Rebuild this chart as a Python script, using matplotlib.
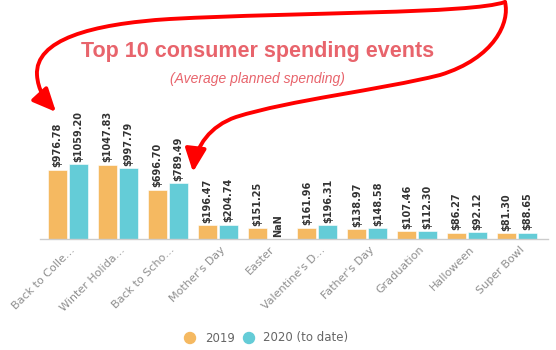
import matplotlib
matplotlib.use("Agg")
import matplotlib.pyplot as plt
import matplotlib.patches as patches
from matplotlib.path import Path
import numpy as np

# data
events = ["Back to Colle\u2026", "Winter Holida\u2026", "Back to Scho\u2026", "Mother's Day",
          "Easter", "Valentine's D\u2026", "Father's Day", "Graduation", "Halloween", "Super Bowl"]
spend_2019 = [976.78, 1047.83, 696.70, 196.47, 151.25, 161.96, 138.97, 107.46, 86.27, 81.30]
spend_2020 = [1059.20, 997.79, 789.49, 204.74, np.nan, 196.31, 148.58, 112.30, 92.12, 88.65]
series_names = ["2019", "2020 (to date)"]

ORANGE = "#F5B961"
CYAN = "#64CCD7"
TITLE_RED = "#E8646C"

W, H = 556, 350
fig = plt.figure(figsize=(W / 100, H / 100), dpi=100)

# main bar axes (pixel layout: left 40, right 548, baseline 239, top 100)
ax = fig.add_axes([40 / W, (H - 239) / H, 508 / W, 139 / H])
x = np.arange(len(events))
bw = 0.38
off = 0.21
ax.bar(x - off, spend_2019, bw, color=ORANGE, edgecolor="white", linewidth=0.4)
ax.bar(x + off, np.nan_to_num(spend_2020), bw, color=CYAN, edgecolor="white", linewidth=0.4)

lab_kw = dict(rotation=90, ha="center", va="bottom", fontsize=7, fontweight="bold",
              color="#333333", family="DejaVu Sans")
for i in range(len(events)):
    ax.text(x[i] - off, spend_2019[i] + 35, f"${spend_2019[i]:.2f}", **lab_kw)
    v = spend_2020[i]
    txt = "NaN" if np.isnan(v) else f"${v:.2f}"
    ax.text(x[i] + off, (0 if np.isnan(v) else v) + 35, txt, **lab_kw)

ax.set_xlim(-0.56, 9.62)
ax.set_ylim(0, 1963)
ax.set_yticks([])
ax.set_xticks(x + 0.04)
ax.set_xticklabels(events, rotation=45, ha="right", va="top", rotation_mode="anchor",
                   fontsize=8, color="#8f8f8f", family="DejaVu Sans")
ax.tick_params(axis="x", length=0, pad=4)
for s in ["top", "right", "left"]:
    ax.spines[s].set_visible(False)
ax.spines["bottom"].set_color("#cccccc")
ax.spines["bottom"].set_linewidth(1)
ax.patch.set_alpha(0)

# overlay in pixel coordinates for title, legend and hand-drawn arrows
ov = fig.add_axes([0, 0, 1, 1], zorder=5)
ov.set_xlim(0, W)
ov.set_ylim(H, 0)
ov.axis("off")
ov.patch.set_alpha(0)

ov.text(258, 52, "Top 10 consumer spending events", ha="center", va="center",
        fontsize=15.5, fontweight="bold", color=TITLE_RED, family="Liberation Sans")
ov.text(257, 79, "(Average planned spending)", ha="center", va="center",
        fontsize=10, style="italic", color=TITLE_RED, family="Liberation Sans")

# legend
ov.add_patch(patches.Circle((190, 338), 5.5, color=ORANGE))
ov.text(205, 338, series_names[0], ha="left", va="center", fontsize=8.5, color="#666666")
ov.add_patch(patches.Circle((249, 338), 5.5, color=CYAN))
ov.text(263, 338, series_names[1], ha="left", va="center", fontsize=8.5, color="#666666")

# hand-drawn red arrows
C = Path.CURVE4
left_path = Path(
    [(505, 2), (470, 14), (300, 12), (170, 19),
     (90, 24), (35, 40), (37, 75),
     (38, 90), (45, 100), (56, 112)],
    [Path.MOVETO, C, C, C, C, C, C, C, C, C])
right_path = Path(
    [(505, 2), (510, 22), (495, 58), (440, 75),
     (380, 90), (290, 100), (236, 117),
     (210, 126), (196, 146), (193, 172)],
    [Path.MOVETO, C, C, C, C, C, C, C, C, C])
for p in (left_path, right_path):
    ov.add_patch(patches.FancyArrowPatch(
        path=p, arrowstyle="-|>,head_length=0.7,head_width=0.32",
        mutation_scale=20, color="#FF0000", lw=2.8, capstyle="round", joinstyle="round"))

fig.savefig("out.png", dpi=100)
